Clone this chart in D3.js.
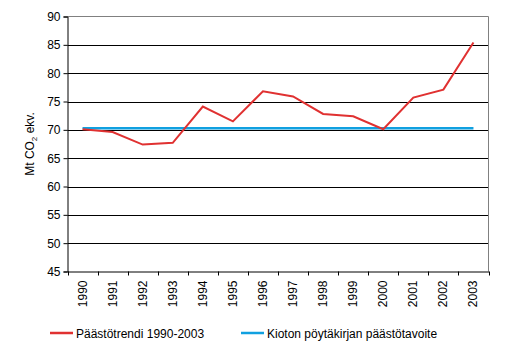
<!DOCTYPE html>
<html><head><meta charset="utf-8">
<script src="https://cdn.jsdelivr.net/npm/d3@7"></script>
<style>
body{margin:0;background:#fff;}
text{font-family:"Liberation Sans",Arial,sans-serif;font-size:12px;fill:#000;}
</style></head>
<body><svg id="c" width="514" height="357"></svg>
<script>
const years = ["1990","1991","1992","1993","1994","1995","1996","1997","1998","1999","2000","2001","2002","2003"];
const emissions = [70.1,69.6,67.4,67.7,74.1,71.5,76.8,75.9,72.8,72.4,70.1,75.7,77.1,85.4];
const kyotoTarget = [70.3,70.3,70.3,70.3,70.3,70.3,70.3,70.3,70.3,70.3,70.3,70.3,70.3,70.3];
const yTicks = [45,50,55,60,65,70,75,80,85,90];
const seriesNames = ["Päästötrendi 1990-2003","Kioton pöytäkirjan päästötavoite"];
const colors = ["#e03131","#10a0e0"];

const svg = d3.select("#c");
const L=67.5, R=488.5, T=16.5, B=271.5;
const x = d3.scaleBand().domain(years).range([L,R]);
const y = d3.scaleLinear().domain([45,90]).range([B,T]);

// gridlines
svg.append("g").selectAll("line").data(yTicks.filter(v=>v>45 && v<90)).join("line")
  .attr("x1",L).attr("x2",R).attr("y1",d=>Math.round(y(d))+0.5).attr("y2",d=>Math.round(y(d))+0.5)
  .attr("stroke","#000").attr("stroke-width",1);
// top & right border gray
svg.append("path").attr("d",`M${L},${T}H${R}V${B}`).attr("fill","none").attr("stroke","#808080");

// y axis
const ya = svg.append("g").attr("transform",`translate(${L},0)`)
  .call(d3.axisLeft(y).tickValues(yTicks).tickSize(4).tickPadding(3));
ya.select(".domain").attr("stroke","#000");
ya.selectAll(".tick line").attr("stroke","#000");
ya.selectAll("text").style("font-size","12px").style("font-family","Liberation Sans, Arial");

// x axis
const xa = svg.append("g").attr("transform",`translate(0,${B})`)
  .call(d3.axisBottom(x).tickSize(0).tickFormat(""));
xa.select(".domain").attr("stroke","#000");
svg.append("g").selectAll("line").data(years.concat(["end"])).join("line")
  .attr("x1",(d,i)=>Math.round(L + i*x.step())+0.5).attr("x2",(d,i)=>Math.round(L + i*x.step())+0.5)
  .attr("y1",B).attr("y2",B+4).attr("stroke","#000");
svg.append("g").selectAll("text").data(years).join("text")
  .attr("transform",d=>`translate(${x(d)+x.bandwidth()/2+4},${B+9}) rotate(-90)`)
  .attr("text-anchor","end").text(d=>d);

// y label
const yl = svg.append("text").attr("transform",`translate(34,${(T+B)/2}) rotate(-90)`).attr("text-anchor","middle");
yl.append("tspan").text("Mt CO");
yl.append("tspan").attr("dy",3).style("font-size","8px").text("2");
yl.append("tspan").attr("dy",-3).text(" ekv.");

const cx = d=>x(d)+x.bandwidth()/2;
const line = d3.line().x((d,i)=>cx(years[i])).y(d=>y(d));
svg.append("path").datum(kyotoTarget).attr("d",line).attr("fill","none").attr("stroke",colors[1]).attr("stroke-width",2.5);
svg.append("path").datum(emissions).attr("d",line).attr("fill","none").attr("stroke",colors[0]).attr("stroke-width",2);

// legend
const lx=[50,241];
seriesNames.forEach((n,i)=>{
  svg.append("line").attr("x1",lx[i]).attr("x2",lx[i]+23).attr("y1",333).attr("y2",333).attr("stroke",colors[i]).attr("stroke-width",2.5);
  svg.append("text").attr("x",lx[i]+26).attr("y",337.5).text(n);
});
</script></body></html>
